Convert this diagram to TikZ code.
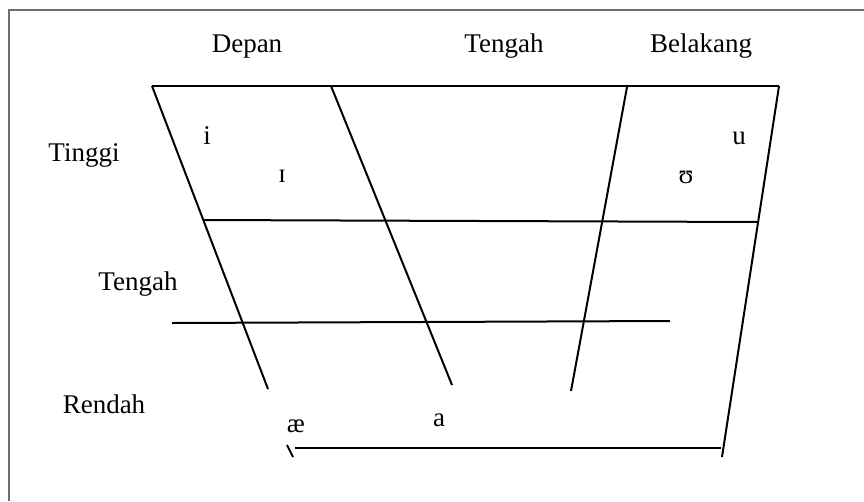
\documentclass[tikz,border=0pt]{standalone}
\usepackage{fontspec}
\setmainfont{Liberation Serif}
\usetikzlibrary{positioning}
\definecolor{framegray}{HTML}{6E6E6E}

\tikzset{
  gridline/.style={black, line width=2pt},
  label/.style={anchor=base, inner sep=0pt, font=\fontsize{27}{30}\selectfont},
  vowel/.style={anchor=base, inner sep=0pt, font=\fontsize{27}{30}\selectfont}
}

\begin{document}
\begin{tikzpicture}[x=1pt,y=-1pt]
\useasboundingbox (0,0) rectangle (864,501);
\draw[framegray, line width=2pt] (8.5,501) -- (8.5,9.5) -- (864,9.5);
% corner points of the chart
\coordinate (tl) at (152,86);
\coordinate (tr) at (779,86);
\coordinate (c2top) at (331,86);
\coordinate (c3top) at (627,87);
\coordinate (lbot) at (268,389);
\coordinate (c2bot) at (452,385);
\coordinate (c3bot) at (571,391);
\coordinate (rbot) at (722,457);
\coordinate (h1l) at (203,220);
\coordinate (h1r) at (758,222);
\coordinate (h2l) at (172,323);
\coordinate (h2r) at (670,321);
\coordinate (bl) at (295,447.5);
\coordinate (br) at (721,447.5);
\coordinate (tka) at (287,445);
\coordinate (tkb) at (293,457);
% lines
\draw[gridline] (tl) -- (tr);
\draw[gridline] (tl) -- (lbot);
\draw[gridline] (c2top) -- (c2bot);
\draw[gridline] (c3top) -- (c3bot);
\draw[gridline] (tr) -- (rbot);
\draw[gridline] (h1l) -- (h1r);
\draw[gridline] (h2l) -- (h2r);
\draw[gridline] (bl) -- (br);
\draw[gridline] (tka) -- (tkb);
% column and row names
\node[label] (depan) at (247,52) {Depan};
\node[label] (tengahc) at (504,52) {Tengah};
\node[label] (belakang) at (701,52) {Belakang};
\node[label] (tinggi) at (84,161) {Tinggi};
\node[label] (tengahr) at (138,290) {Tengah};
\node[label] (rendah) at (104,413) {Rendah};
% vowels
\node[vowel] (vi) at (207,144) {i};
\node[vowel] (vI) at (282,182) {ɪ};
\node[vowel] (vu) at (739,144) {u};
\node[vowel] (vU) at (686,183) {ʊ};
\node[vowel] (vae) at (296,432) {æ};
\node[vowel] (va) at (439,426) {a};
\end{tikzpicture}
\end{document}
